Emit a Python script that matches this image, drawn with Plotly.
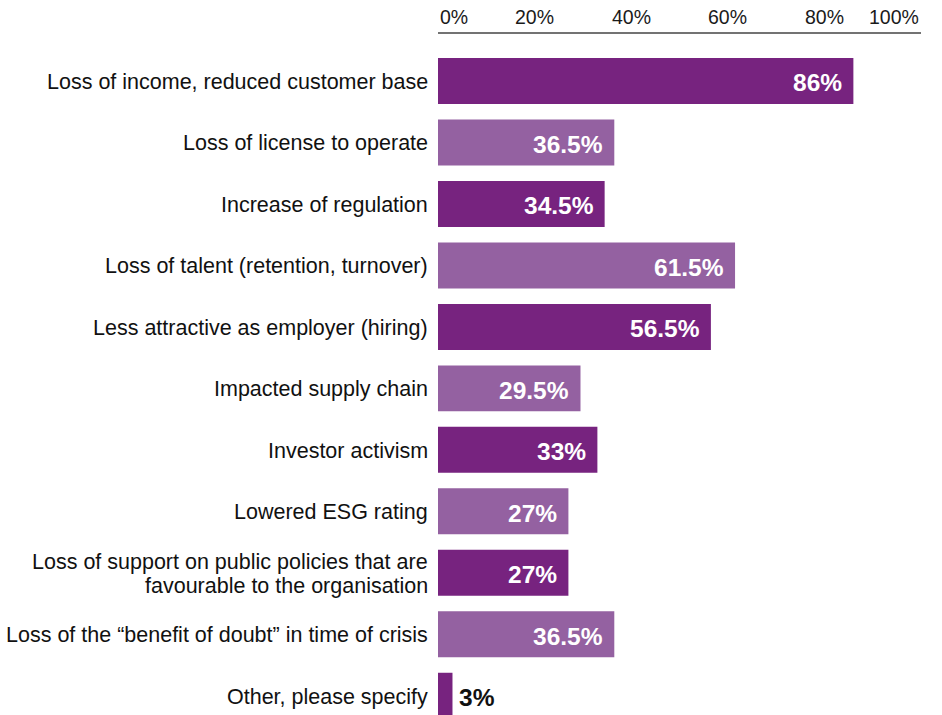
import plotly.graph_objects as go

# Survey responses: consequences of a damaged reputation
categories = [
    "Loss of income, reduced customer base",
    "Loss of license to operate",
    "Increase of regulation",
    "Loss of talent (retention, turnover)",
    "Less attractive as employer (hiring)",
    "Impacted supply chain",
    "Investor activism",
    "Lowered ESG rating",
    "Loss of support on public policies that are\nfavourable to the organisation",
    "Loss of the \u201cbenefit of doubt\u201d in time of crisis",
    "Other, please specify",
]
values = [86, 36.5, 34.5, 61.5, 56.5, 29.5, 33, 27, 27, 36.5, 3]
tick_values = [0, 20, 40, 60, 80, 100]
tick_labels = ["0%", "20%", "40%", "60%", "80%", "100%"]

DARK = "#77237F"
LIGHT = "#9461A1"
FONT = "Liberation Sans, Arial, Helvetica, sans-serif"

rows = list(range(len(categories)))
colors = [DARK if i % 2 == 0 else LIGHT for i in rows]

fig = go.Figure(
    go.Bar(
        x=values,
        y=rows,
        orientation="h",
        width=0.748,
        marker=dict(color=colors, line=dict(width=0)),
        hoverinfo="skip",
    )
)

annotations = []

# Category labels, right-aligned against the bars (one annotation per line)
line_gap = 23.5
for i, label in enumerate(categories):
    lines = label.split("\n")
    n = len(lines)
    for j, line in enumerate(lines):
        offset = (j - (n - 1) / 2) * line_gap
        annotations.append(
            dict(
                x=0, y=i, xref="x", yref="y",
                text=line, showarrow=False,
                xanchor="right", yanchor="middle",
                xshift=-8, yshift=-offset - 1,
                font=dict(family=FONT, size=21.5, color="#111111"),
            )
        )

# Value labels: inside the bar end, or just outside for very short bars
for i, v in enumerate(values):
    txt = f"{v:g}%"
    inside = v >= 10
    annotations.append(
        dict(
            x=v, y=i, xref="x", yref="y",
            text=f"<b>{txt}</b>", showarrow=False,
            xanchor="right" if inside else "left",
            yanchor="middle",
            xshift=-9 if inside else 5, yshift=-2,
            font=dict(family=FONT, size=24.5,
                      color="#ffffff" if inside else "#111111"),
        )
    )

# Percentage scale along the top
for k, (tv, tl) in enumerate(zip(tick_values, tick_labels)):
    anchor = "left" if k == 0 else ("right" if k == len(tick_values) - 1 else "center")
    annotations.append(
        dict(
            x=tv, y=1, xref="x", yref="paper",
            text=tl, showarrow=False,
            xanchor=anchor, yanchor="bottom", yshift=3,
            font=dict(family=FONT, size=19.5, color="#1a1a1a"),
        )
    )

fig.update_layout(
    width=942,
    height=715,
    margin=dict(l=438, r=21, t=33, b=0),
    paper_bgcolor="white",
    plot_bgcolor="white",
    showlegend=False,
    annotations=annotations,
    shapes=[
        dict(type="line", xref="paper", yref="paper",
             x0=0, x1=1, y0=1, y1=1,
             line=dict(color="#444444", width=1.5)),
    ],
    xaxis=dict(range=[0, 100], showgrid=False, zeroline=False,
               showticklabels=False, showline=False, fixedrange=True),
    yaxis=dict(range=[10.313, -0.7805], showgrid=False, zeroline=False,
               showticklabels=False, showline=False, fixedrange=True),
)

fig.write_html("out.html")
